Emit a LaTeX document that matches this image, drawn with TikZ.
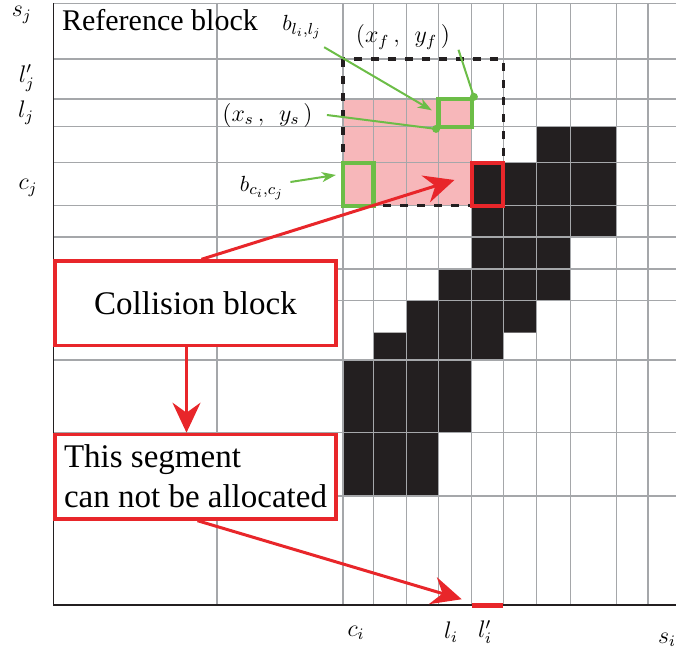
\documentclass[tikz,border=0pt]{standalone}
\usepackage{fontspec}
\setmainfont{Liberation Serif}
\usetikzlibrary{arrows.meta, positioning}
\definecolor{blkfill}{HTML}{231F20}
\definecolor{pinkfill}{HTML}{F7B7BA}
\definecolor{redline}{HTML}{E8262A}
\definecolor{grnline}{HTML}{6CBD47}
\definecolor{gridgray}{HTML}{A5A7AA}
\tikzset{
  gridln/.style  = {draw=gridgray, line width=0.55pt},
  axisln/.style  = {draw=blkfill, line width=0.8pt},
  refbox/.style  = {draw=blkfill, line width=1.6pt, dash pattern=on 4pt off 4.5pt},
  gcell/.style   = {rectangle, draw=grnline, line width=2.2pt, inner sep=0pt},
  rcell/.style   = {rectangle, draw=redline, line width=2pt, inner sep=0pt},
  msg/.style     = {rectangle, draw=redline, line width=1.8pt, fill=white,
                    minimum width=140.25pt, minimum height=42.2pt, inner sep=0pt,
                    font=\fontsize{16.5}{20}\selectfont},
  ax/.style      = {font=\fontsize{12}{14}\selectfont, inner sep=0pt},
  blbl/.style    = {font=\fontsize{10.95}{13}\selectfont, inner sep=0pt},
  ptlbl/.style   = {font=\fontsize{12}{15}\selectfont, inner sep=0pt},
  redarr/.style  = {draw=redline, line width=1.5pt,
                    -{Stealth[length=15pt, width=14pt, inset=5pt]}},
  grarr/.style   = {draw=grnline, line width=1pt,
                    -{Stealth[length=7pt, width=5pt, inset=2pt]}},
  grln/.style    = {draw=grnline, line width=1pt},
}

\begin{document}
\begin{tikzpicture}[x=0.5pt, y=-0.5pt]
  \useasboundingbox (0,0) rectangle (676,654);

  % reference area and occupied cells
  \fill[pinkfill] (343,99) rectangle (471.7,205.7);
  \fill[blkfill] (536.7,126.7) -- (616.7,126.7) -- (616.7,236.7) -- (570.5,236.7)
    -- (570.5,300.7) -- (536.7,300.7) -- (536.7,332.7) -- (503.3,332.7)
    -- (503.3,360) -- (471.7,360) -- (471.7,432.7) -- (438.3,432.7)
    -- (438.3,496) -- (343,496) -- (343,360) -- (373.3,360) -- (373.3,332.7)
    -- (406.5,332.7) -- (406.5,300.7) -- (438.3,300.7) -- (438.3,269)
    -- (471.7,269) -- (471.7,162.7) -- (536.7,162.7) -- cycle;

  % grid
  \foreach \gx in {217,343,373.3,406.5,438.3,471.7,503.3,536.7,570.5,616.7,648}
    \draw[gridln] (\gx,3.3) -- (\gx,605);
  \foreach \gy in {3.3,59,99,126.7,162.7,205.7,237,269,300.7,360,432.7,496}
    \draw[gridln] (53.3,\gy) -- (676,\gy);
  \draw[axisln] (53.3,3.3) -- (53.3,605) -- (676,605);

  \draw[refbox] (343,59) rectangle (503.3,205.7);

  \node[gcell, minimum width=16.7pt, minimum height=13.85pt] (gll) at (455,112.85) {};
  \node[gcell, minimum width=15.15pt, minimum height=21.5pt] (gcc) at (358.15,184.2) {};
  \node[rcell, minimum width=15.8pt, minimum height=21.5pt] (colcell) at (487.5,184.2) {};
  \node[fill=redline, minimum width=15.8pt, minimum height=2.5pt, inner sep=0pt] (lseg) at (487.5,605) {};

  \coordinate (xs) at (gll.south west);
  \coordinate (xf) at (gll.north east);
  \fill[grnline] (xs) circle (2pt);
  \fill[grnline] (xf) circle (2pt);

  % axis labels
  \node[ax] (sj)  at (21.7,15)  {$s_j$};
  \node[ax] (lpj) at (26.7,78)  {$l'_j$};
  \node[ax] (lj)  at (26,113)   {$l_j$};
  \node[ax] (cj)  at (28,188)   {$c_j$};
  \node[ax] (ci)  at (356,633)  {$c_i$};
  \node[ax] (li)  at (451,632)  {$l_i$};
  \node[ax] (lpi) at (485,632)  {$l'_i$};
  \node[ax] (si)  at (667,640)  {$s_i$};

  \node[anchor=west, inner sep=0pt, font=\fontsize{15}{18}\selectfont] (reflbl) at (61.7,20) {Reference block};
  \node[blbl]  (bll) at (302,27)    {$b_{l_i,l_j}$};
  \node[blbl]  (bcc) at (262,188)   {$b_{c_i,c_j}$};
  \node[ptlbl] (xfl) at (403,37)    {$(x_f\,,\;\,y_f\,)$};
  \node[ptlbl] (xsl) at (267.5,115) {$(x_s\,,\;\,y_s\,)$};

  \draw[grarr, shorten >=2.5pt] ([shift={(1pt,-4pt)}]bll.south east) -- (gll.west);
  \draw[grln] ([xshift=4pt]xfl.south east) -- (xf);
  \draw[grln] ([xshift=7pt]xsl.east) -- (xs);
  \draw[grarr, shorten >=2.5pt] ([shift={(3pt,3pt)}]bcc.east) -- ([yshift=5pt]gcc.west);

  % message boxes
  \node[msg] (coll) at (195.5,303.3) {Collision block};
  \node[msg, align=left, below=42.7pt of coll] (seg) {This segment\\can not be allocated};

  \draw[redarr, shorten >=8pt] ([xshift=3pt]coll.north) -- ([yshift=4.5pt]colcell.west);
  \draw[redarr] ([xshift=-4.5pt]coll.south) -- ([xshift=-4.5pt]seg.north);
  \draw[redarr, shorten >=5pt] ([xshift=1pt]seg.south) -- (lseg.north west);
\end{tikzpicture}
\end{document}
